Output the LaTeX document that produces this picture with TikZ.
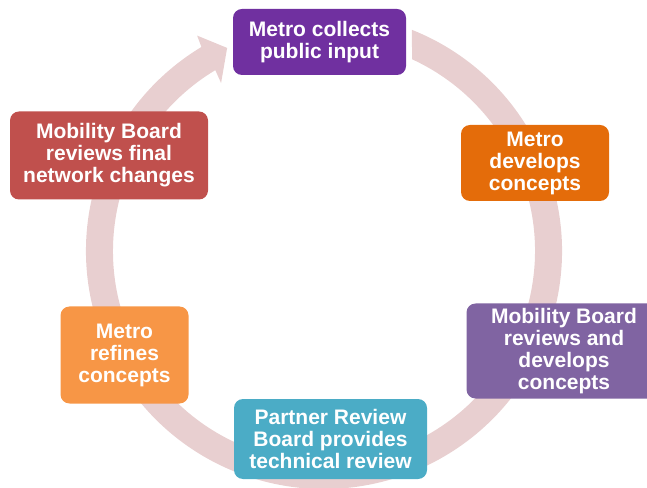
\documentclass[tikz,border=0pt]{standalone}
\usepackage{fontspec}
\setmainfont{Liberation Sans}
\usetikzlibrary{calc}
\definecolor{ringcol}{HTML}{E8CFD0}
\definecolor{cA}{HTML}{7030A0}
\definecolor{cB}{HTML}{E46C0A}
\definecolor{cC}{HTML}{8064A2}
\definecolor{cD}{HTML}{4BACC6}
\definecolor{cE}{HTML}{F79646}
\definecolor{cF}{HTML}{C0504D}
\tikzset{
  stepbox/.style={rounded corners=9pt, text=white, align=center, inner sep=0pt,
    font=\fontsize{21}{22}\selectfont\bfseries},
}
\begin{document}
\begin{tikzpicture}[x=1pt,y=1pt]
\useasboundingbox (0,0) rectangle (647,487);
\clip (0,0) rectangle (647,487);
\coordinate (c) at (324pt,236pt);
% ring arrow
\fill[ringcol] ($(c)+(68.3:238pt)$) arc[start angle=68.3, end angle=-239, radius=238pt]
  -- ($(c)+(-239.5:250pt)$) -- ($(c)+(-244.5:225pt)$) -- ($(c)+(-238.5:197pt)$)
  -- ($(c)+(-239:211pt)$) arc[start angle=-239, end angle=65.35, radius=211pt] -- cycle;
% boxes
\node[stepbox, fill=cA, minimum width=173pt, minimum height=66pt] (n1) at (319.5,445) {Metro collects\\public input};
\node[stepbox, fill=cB, minimum width=148pt, minimum height=76pt] (n2) at (535,324) {Metro\\develops\\concepts};
\node[stepbox, fill=cC, minimum width=195pt, minimum height=95pt] (n3) at (564,136) {Mobility Board\\reviews and\\develops\\concepts};
\node[stepbox, fill=cD, minimum width=193pt, minimum height=80pt] (n4) at (330.5,48) {Partner Review\\Board provides\\technical review};
\node[stepbox, fill=cE, minimum width=128pt, minimum height=97pt] (n5) at (124.5,132) {Metro\\refines\\concepts};
\node[stepbox, fill=cF, minimum width=198pt, minimum height=88pt] (n6) at (109,331.5) {Mobility Board\\reviews final\\network changes};
\end{tikzpicture}
\end{document}
